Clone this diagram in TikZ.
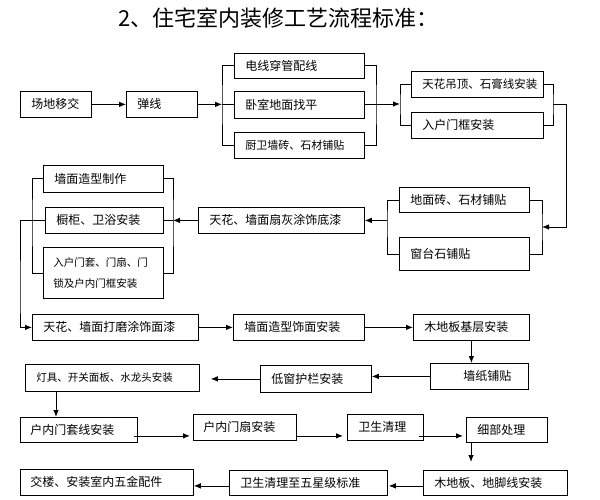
\documentclass[tikz,border=0pt]{standalone}
\usepackage{fontspec}
\setmainfont{Noto Sans CJK SC}
\usepackage{tikz}
\usetikzlibrary{arrows.meta,calc}
\usetikzlibrary{positioning}

\begin{document}
\begin{tikzpicture}[x=1pt,y=-1pt,
  stepbox/.style={draw, line width=0.8pt, anchor=north west, align=left, inner xsep=11pt, inner ysep=0pt, minimum height=26pt, font=\fontsize{12}{14}\selectfont},
  arr/.style={line width=0.8pt, ->, >={Latex[length=7pt,width=5.5pt]}},
  brk/.style={line width=0.8pt}]
\useasboundingbox (0,0) rectangle (600,500);
\node[anchor=west, font=\fontsize{22}{26}\selectfont] (title) at (115,18) {2、住宅室内装修工艺流程标准：};
\node[stepbox, text width=49pt] (site) at (20,91) {场地移交};
\node[stepbox, text width=49pt] (snap) at (126,91) {弹线};
\node[stepbox, text width=108pt, minimum height=25pt] (wire) at (234,53) {电线穿管配线};
\node[stepbox, text width=108pt, minimum height=27pt] (level) at (234,91) {卧室地面找平};
\node[stepbox, text width=108pt, font=\fontsize{11}{13}\selectfont] (tile) at (234,132) {厨卫墙砖、石材铺贴};
\node[stepbox, text width=110pt, font=\fontsize{11.5}{13}\selectfont] (ceil) at (411,71) {天花吊顶、石膏线安装};
\node[stepbox, text width=110pt] (frame) at (411,112) {入户门框安装};
\node[stepbox, text width=108pt, minimum height=25pt] (floor) at (399,187) {地面砖、石材铺贴};
\node[stepbox, text width=108pt, minimum height=33pt] (sill) at (399,237) {窗台石铺贴};
\node[stepbox, text width=144pt] (prime) at (198,207) {天花、墙面扇灰涂饰底漆};
\node[stepbox, text width=98pt, minimum height=27pt] (shape) at (43,165) {墙面造型制作};
\node[stepbox, text width=96pt] (cabinet) at (45,207) {橱柜、卫浴安装};
\node[stepbox, text width=100pt, inner xsep=10pt, minimum height=51pt, font=\fontsize{10.5}{21}\selectfont] (door) at (43,247) {入户门套、门扇、门\\锁及户内门框安装};
\node[stepbox, text width=144pt] (finish) at (32,314) {天花、墙面打磨涂饰面漆};
\node[stepbox, text width=109pt] (facing) at (233,314) {墙面造型饰面安装};
\node[stepbox, text width=94pt] (base) at (413,314) {木地板基层安装};
\node[stepbox, text width=64pt, inner xsep=17pt, align=right] (paper) at (430,363) {墙纸铺贴};
\node[stepbox, text width=89pt, minimum height=27pt] (rail) at (260,365) {低窗护栏安装};
\node[stepbox, text width=152pt, minimum height=27pt, font=\fontsize{10.5}{13}\selectfont] (lamp) at (25,364) {灯具、开关面板、水龙头安装};
\node[stepbox, text width=97pt, inner xsep=10pt, minimum height=25pt] (trim) at (20,417) {户内门套线安装};
\node[stepbox, text width=83pt, inner xsep=10pt] (leaf) at (193,414) {户内门扇安装};
\node[stepbox, text width=54pt] (clean) at (347,414) {卫生清理};
\node[stepbox, text width=59pt, minimum height=25pt] (detail) at (466,417) {细部处理};
\node[stepbox, text width=122pt, minimum height=25pt] (wood) at (423,470) {木地板、地脚线安装};
\node[stepbox, text width=136pt, minimum height=25pt] (star) at (229,470) {卫生清理至五星级标准};
\node[stepbox, text width=153pt, inner xsep=10pt] (handover) at (20,469) {交楼、安装室内五金配件};
\coordinate (l1) at (222,104);
\coordinate (r1) at (376,104);
\coordinate (l2) at (400,104);
\coordinate (r2) at (553,104);
\coordinate (c1) at (566,104);
\coordinate (r3) at (542,227);
\coordinate (l3) at (387,220);
\coordinate (l4) at (173,220);
\coordinate (l5) at (32,220);
\coordinate (c2) at (20,300);
\draw[arr] (site) -- (snap);
\draw[arr] (snap) -- (snap -| l1);
\draw[brk] (wire.west) -| (l1) |- (tile.west);
\draw[brk] (level.west -| l1) -- (level.west);
\draw[brk] (wire.east) -| (r1) |- (tile.east);
\draw[brk] (level.east) -- (level.east -| r1);
\draw[arr] (r1) -- (l2);
\draw[brk] (ceil.west) -| (l2) |- (frame.west);
\draw[brk] (ceil.east) -| (r2) |- (frame.east);
\draw[arr] (r2) -- (c1) |- (r3);
\draw[brk] (floor.east) -| (r3) |- (sill.east);
\draw[brk] (floor.west) -| (l3) |- (sill.west);
\draw[arr] (prime.east -| l3) -- (prime.east);
\draw[brk] (shape.east) -| (l4) |- (door.east);
\draw[arr] (prime.west) -- (prime.west -| l4);
\draw[brk] (cabinet.east) -- (cabinet.east -| l4);
\draw[brk] (shape.west) -| (l5) |- (door.west);
\draw[arr] (cabinet.west) -| (c2) |- (finish.west);
\draw[arr] (finish) -- (facing);
\draw[arr] (facing) -- (base);
\draw[arr] (base.south) -- (base.south |- paper.north);
\draw[arr] (paper.west) -- (paper.west -| rail.east);
\draw[arr, shorten >=11pt] (rail.west) -- (rail.west -| lamp.east);
\draw[arr] ([xshift=31pt]lamp.south west) -- ([xshift=31pt]lamp.south west |- trim.north);
\draw[arr, shorten <=-4pt, shorten >=3pt] ([yshift=-6pt]trim.east) -- ([yshift=-6pt]trim.east -| leaf.west);
\draw[arr, shorten >=4pt] ([yshift=-6pt]trim.east -| leaf.east) -- ([yshift=-6pt]trim.east -| clean.west);
\draw[arr, shorten <=-5pt, shorten >=3pt] ([yshift=-6pt]trim.east -| clean.east) -- ([yshift=-6pt]trim.east -| detail.west);
\draw[arr, shorten >=8pt] ([xshift=5pt]detail.south west) -- ([xshift=5pt]detail.south west |- wood.north);
\draw[arr, shorten >=1pt] ([yshift=-3pt]wood.west) -- ([yshift=-3pt]wood.west -| star.east);
\draw[arr] ([yshift=-3pt]star.west) -- ([yshift=-3pt]star.west -| handover.east);
\end{tikzpicture}
\end{document}
